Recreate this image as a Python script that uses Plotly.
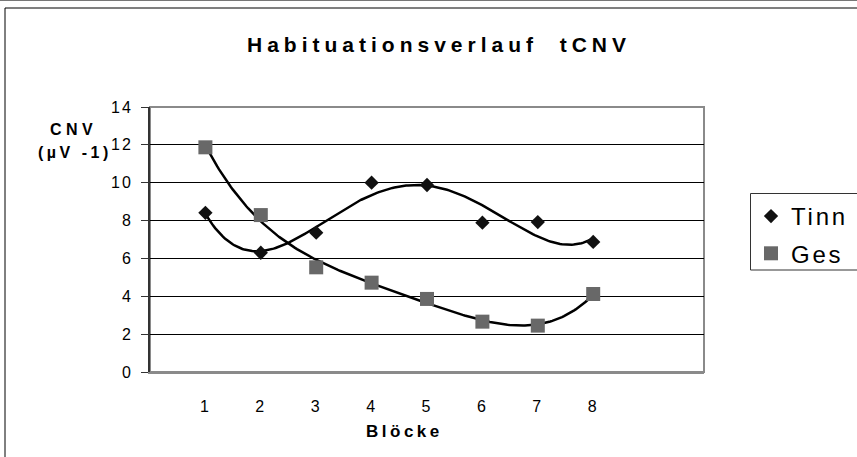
import numpy as np
import plotly.graph_objects as go

blocks = [1, 2, 3, 4, 5, 6, 7, 8]
tinn = [8.41, 6.30, 7.36, 10.0, 9.88, 7.89, 7.92, 6.87]
ges = [11.87, 8.29, 5.53, 4.72, 3.86, 2.66, 2.45, 4.12]
y_ticks = [0, 2, 4, 6, 8, 10, 12, 14]
title_text = "Habituationsverlauf  tCNV"
x_title = "Blöcke"
y_title = ["CNV", "(µV -1)"]
names = ["Tinn", "Ges"]

FONT = "Liberation Sans, Arial, sans-serif"
W, H = 857, 457
L, R, T, B = 150, 153, 107, 85
pw, ph = W - L - R, H - T - B


def px_x(p):
    return (p - L) / pw


def px_y(p):
    return (H - B - p) / ph


def trend(x, y, deg):
    c = np.polyfit(x, y, deg)
    xs = np.linspace(min(x), max(x), 200)
    return xs, np.polyval(c, xs)


def sp(s, n):
    return f'<span style="letter-spacing:{n}px">{s}</span>'


fig = go.Figure()

tx, ty = trend(blocks, tinn, 4)
gx, gy = trend(blocks, ges, 4)
fig.add_trace(go.Scatter(x=tx, y=ty, mode="lines", line=dict(color="black", width=2.5),
                         showlegend=False, hoverinfo="skip"))
fig.add_trace(go.Scatter(x=gx, y=gy, mode="lines", line=dict(color="black", width=2.5),
                         showlegend=False, hoverinfo="skip"))
fig.add_trace(go.Scatter(x=blocks, y=tinn, mode="markers", name=sp(names[0], 2.8), legendgroup="a",
                         marker=dict(symbol="diamond", size=11, color="#111111",
                                     line=dict(width=0))))
fig.add_trace(go.Scatter(x=blocks, y=ges, mode="markers", name=sp(names[1], 2.8), legendgroup="b",
                         marker=dict(symbol="square", size=14, color="#686868",
                                     line=dict(width=0))))

fig.update_layout(
    width=W, height=H,
    margin=dict(l=L, r=R, t=T, b=B, autoexpand=False),
    paper_bgcolor="white", plot_bgcolor="white",
    font=dict(family=FONT, size=16, color="black"),
    showlegend=True,
    legend=dict(x=px_x(751), y=px_y(194), xanchor="left", yanchor="top",
                borderwidth=0, bgcolor="rgba(0,0,0,0)",
                font=dict(family=FONT, size=24, color="black"),
                tracegroupgap=3, itemsizing="trace"),
    xaxis=dict(range=[0, 10], tickvals=blocks, ticktext=[sp(str(b), 2) for b in blocks],
               showgrid=False, zeroline=False, ticks="", showline=True,
               linecolor="#8a8a8a", linewidth=2, ticklabelstandoff=19,
               tickfont=dict(family=FONT, size=16), fixedrange=True),
    yaxis=dict(range=[0, 14], tickvals=y_ticks, ticktext=[sp(str(v), 2) for v in y_ticks],
               showgrid=True, gridcolor="black", gridwidth=1,
               zeroline=False, ticks="outside", ticklen=7, tickcolor="#333333", tickwidth=1,
               showline=True, linecolor="#333333", linewidth=2, ticklabelstandoff=5,
               tickfont=dict(family=FONT, size=16), fixedrange=True),
    shapes=[
        dict(type="rect", xref="paper", yref="paper", x0=0, x1=1, y0=0, y1=1,
             line=dict(color="#8a8a8a", width=2), layer="below"),
        dict(type="line", xref="paper", yref="paper", x0=px_x(5), x1=px_x(5),
             y0=px_y(8), y1=px_y(470), line=dict(color="black", width=1)),
        dict(type="line", xref="paper", yref="paper", x0=px_x(5), x1=px_x(870),
             y0=px_y(8), y1=px_y(8), line=dict(color="black", width=1)),
        dict(type="line", xref="paper", yref="paper", x0=px_x(-5), x1=px_x(870),
             y0=px_y(0.5), y1=px_y(0.5), line=dict(color="#777777", width=1)),
        dict(type="rect", xref="paper", yref="paper", x0=px_x(750.5), x1=px_x(880),
             y0=px_y(193.5), y1=px_y(270), line=dict(color="#333333", width=1),
             fillcolor="white", layer="below"),
    ],
    annotations=[
        dict(text=sp("<b>" + title_text + "</b>", 5.0), xref="paper", yref="paper",
             x=px_x(439), y=px_y(44), xanchor="center", yanchor="middle", showarrow=False,
             font=dict(family=FONT, size=21)),
        dict(text=sp("<b>" + x_title + "</b>", 3.5), xref="paper", yref="paper",
             x=px_x(404), y=px_y(431), xanchor="center", yanchor="middle", showarrow=False,
             font=dict(family=FONT, size=17)),
        dict(text=sp("<b>" + y_title[0] + "</b>", 4.5), xref="paper", yref="paper",
             x=px_x(73), y=px_y(129), xanchor="center", yanchor="middle", showarrow=False,
             font=dict(family=FONT, size=16)),
        dict(text=sp("<b>" + y_title[1] + "</b>", 3.5), xref="paper", yref="paper",
             x=px_x(75), y=px_y(152), xanchor="center", yanchor="middle", showarrow=False,
             font=dict(family=FONT, size=16)),
    ],
)

fig.write_html("out.html", config={"displayModeBar": False},
               post_script="document.body.style.margin='0';document.body.style.overflow='hidden';")
